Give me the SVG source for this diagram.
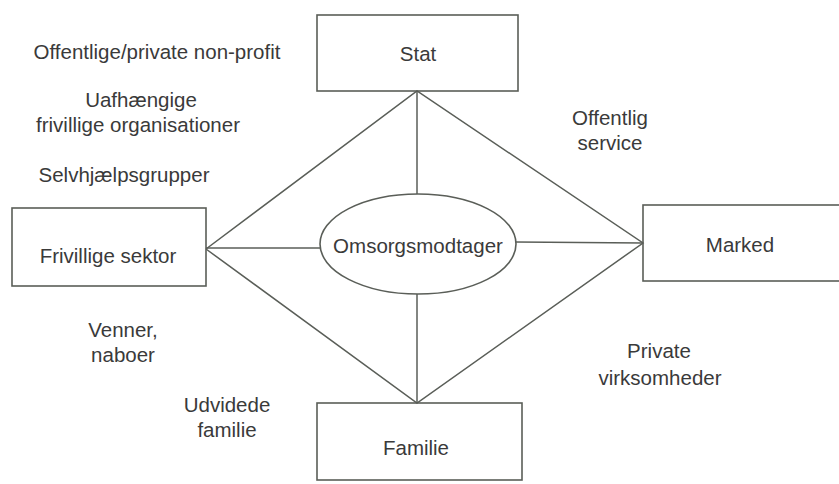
<svg xmlns="http://www.w3.org/2000/svg" width="839" height="484" viewBox="0 0 839 484">
<style>
.box{fill:none;stroke:#5a5e58;stroke-width:1.6}
.ln{fill:none;stroke:#5a5e58;stroke-width:1.5}
text{font-family:"Liberation Sans",Arial,sans-serif;font-size:20.5px;fill:#3a3a3a;text-anchor:middle}
</style>
<rect width="839" height="484" fill="#fff"/>
<g id="connectors">
<polyline class="ln" points="206,249 417,91 643,243 417,403 206,249"/>
<line class="ln" x1="417" y1="91" x2="417" y2="194"/>
<line class="ln" x1="417" y1="294" x2="417" y2="403"/>
<line class="ln" x1="206" y1="248" x2="321" y2="248"/>
<line class="ln" x1="516" y1="242" x2="643" y2="243"/>
</g>
<g id="stat"><rect class="box" x="317" y="15" width="201" height="76"/><text x="418" y="61">Stat</text></g>
<g id="frivillige"><rect class="box" x="12" y="208" width="194" height="78"/><text x="108" y="263">Frivillige sektor</text></g>
<g id="marked"><rect class="box" x="643" y="205" width="220" height="76"/><text x="740" y="252">Marked</text></g>
<g id="familie"><rect class="box" x="317" y="403" width="205" height="77"/><text x="416" y="455">Familie</text></g>
<g id="omsorgsmodtager"><ellipse class="box" cx="418" cy="244" rx="98" ry="50"/><text x="418" y="253">Omsorgsmodtager</text></g>
<g id="labels">
<text x="157" y="59">Offentlige/private non-profit</text>
<text x="141" y="107">Uafhængige</text>
<text x="138" y="132">frivillige organisationer</text>
<text x="124" y="182">Selvhjælpsgrupper</text>
<text x="610" y="125">Offentlig</text>
<text x="610" y="150">service</text>
<text x="123" y="337">Venner,</text>
<text x="123" y="362">naboer</text>
<text x="227" y="412">Udvidede</text>
<text x="227" y="437">familie</text>
<text x="659" y="358">Private</text>
<text x="660" y="385">virksomheder</text>
</g>
</svg>
